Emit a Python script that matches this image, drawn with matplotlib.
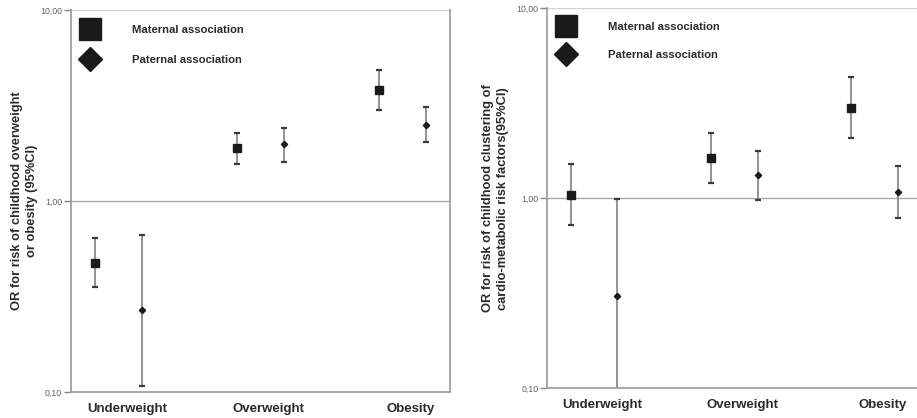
import matplotlib
matplotlib.use("Agg")
import matplotlib.pyplot as plt
from matplotlib.lines import Line2D
import numpy as np

plt.rcParams['font.family'] = ['Liberation Sans', 'DejaVu Sans']

categories = ["Underweight", "Overweight", "Obesity"]
series = ["Maternal association", "Paternal association"]
yticks = [0.1, 1.0, 10.0]
ytick_labels = ["0,10", "1,00", "10,00"]

# Panel A: childhood overweight or obesity
a_mat_or = [0.475, 1.89, 3.81]
a_mat_lo = [0.356, 1.56, 2.99]
a_mat_hi = [0.642, 2.26, 4.85]
a_pat_or = [0.269, 1.98, 2.50]
a_pat_lo = [0.108, 1.60, 2.04]
a_pat_hi = [0.667, 2.42, 3.09]

# Panel B: clustering of cardio-metabolic risk factors
b_mat_or = [1.04, 1.62, 3.00]
b_mat_lo = [0.72, 1.21, 2.07]
b_mat_hi = [1.52, 2.20, 4.33]
b_pat_or = [0.306, 1.32, 1.08]
b_pat_lo = [0.09, 0.98, 0.79]
b_pat_hi = [0.99, 1.77, 1.48]

ylabel_a = "OR for risk of childhood overweight\nor obesity (95%CI)"
ylabel_b = "OR for risk of childhood clustering of\ncardio-metabolic risk factors(95%CI)"

fig = plt.figure(figsize=(9.17, 4.18), dpi=100)

W, H = 917, 418
def axrect(x0, x1, ytop, ybot):
    return [x0 / W, (H - ybot) / H, (x1 - x0) / W, (ybot - ytop) / H]

ax1 = fig.add_axes(axrect(71, 449.5, 10, 392))
ax2 = fig.add_axes(axrect(547.3, 921, 8.3, 388.3))

marker_col = "#1a1a1a"
err_col = "#8a8a8a"
cap_col = "#3a3a3a"

def draw(ax, mor, mlo, mhi, por, plo, phi, ylabel, lab_x, leg_dy, leg_sp):
    idx = np.arange(len(categories))
    xm = idx * 3 + 1
    xp = idx * 3 + 2
    for x, o, lo, hi, mk, ms in [(xm, mor, mlo, mhi, 's', 5.5), (xp, por, plo, phi, 'D', 3.2)]:
        o = np.array(o); lo = np.array(lo); hi = np.array(hi)
        ax.vlines(x, lo, hi, color=err_col, lw=1.3, zorder=2)
        ax.plot(x, lo, ls='none', marker='_', ms=5, mew=1.6, color=cap_col, zorder=3)
        ax.plot(x, hi, ls='none', marker='_', ms=5, mew=1.6, color=cap_col, zorder=3)
        ax.plot(x, o, ls='none', marker=mk, ms=ms, color=marker_col, zorder=4)
    ax.set_yscale('log')
    ax.set_ylim(0.1, 10)
    ax.set_xlim(0.5, 8.5)
    ax.set_yticks(yticks)
    ax.set_yticklabels(ytick_labels)
    ax.yaxis.set_minor_locator(matplotlib.ticker.NullLocator())
    ax.tick_params(axis='y', which='major', length=5, width=1, color='#888888',
                   labelsize=6.3, labelcolor='#606060', pad=1.5)
    ax.set_xticks(idx * 3 + 1.68)
    ax.set_xticklabels(categories, fontsize=9.5, fontweight='bold', color='#2a2a2a')
    ax.tick_params(axis='x', length=0, pad=8)
    ax.axhline(1.0, color='#a8a8a8', lw=1.0, zorder=1)
    ax.axhline(10.0, color='#d4d4d4', lw=1.0, zorder=1)
    for s in ['left', 'bottom', 'right']:
        ax.spines[s].set_color('#a0a0a0')
        ax.spines[s].set_linewidth(1.3)
    ax.spines['top'].set_visible(False)
    ax.text(lab_x, 0.5, ylabel, transform=ax.transAxes, rotation=90, ha='center', va='center',
            multialignment='center', fontsize=9.3, fontweight='bold', color='#2a2a2a', linespacing=1.3)
    handles = [Line2D([], [], ls='none', marker='s', ms=16.5, color=marker_col),
               Line2D([], [], ls='none', marker='D', ms=12.5, color=marker_col)]
    h_ax = ax.get_position().height * H
    leg = ax.legend(handles, series, loc='upper left', bbox_to_anchor=(0, 1 - leg_dy / h_ax),
                    borderaxespad=0.15,
                    frameon=True, facecolor='white', edgecolor='none', fancybox=False, framealpha=1,
                    prop={'size': 8.1, 'weight': 'bold'}, handlelength=1.6, handletextpad=2.95,
                    labelspacing=leg_sp, borderpad=0.7)
    for t in leg.get_texts():
        t.set_color('#2a2a2a')
    leg.set_zorder(5)

draw(ax1, a_mat_or, a_mat_lo, a_mat_hi, a_pat_or, a_pat_lo, a_pat_hi, ylabel_a,
     (24.5 - 71) / 378.5, 5, 1.85)
draw(ax2, b_mat_or, b_mat_lo, b_mat_hi, b_pat_or, b_pat_lo, b_pat_hi, ylabel_b,
     (495.5 - 547.3) / 373.7, 4, 1.6)
ax2.spines['right'].set_visible(False)

fig.savefig("out.png", dpi=100)
